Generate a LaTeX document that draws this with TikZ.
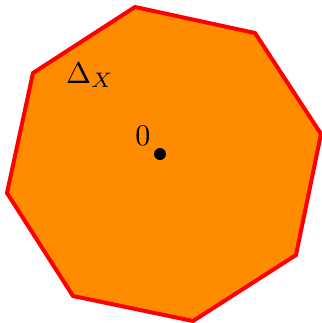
\documentclass[tikz,border=0pt]{standalone}
\begin{document}
\begin{tikzpicture}[x=0.5pt,y=-0.5pt,
  poly/.style={draw=red,fill=fillorange,line width=2pt,line join=miter},
  lbl/.style={inner sep=0pt,scale=1.5}]
\definecolor{fillorange}{HTML}{FF8C00}
\useasboundingbox (0,0) rectangle (322,323);
\coordinate (v1) at (135,7);
\coordinate (v2) at (255,33);
\coordinate (v3) at (321,134);
\coordinate (v4) at (296,255);
\coordinate (v5) at (193,321);
\coordinate (v6) at (73,296);
\coordinate (v7) at (7,193);
\coordinate (v8) at (33,73);
\draw[poly] (v1) -- (v2) -- (v3) -- (v4) -- (v5) -- (v6) -- (v7) -- (v8) -- cycle;
\fill (160,154) circle[radius=3pt];
\node[lbl] (zero) at (143,136) {$0$};
\node[lbl] (delta) at (90,75) {$\Delta_X$};
\end{tikzpicture}
\end{document}
